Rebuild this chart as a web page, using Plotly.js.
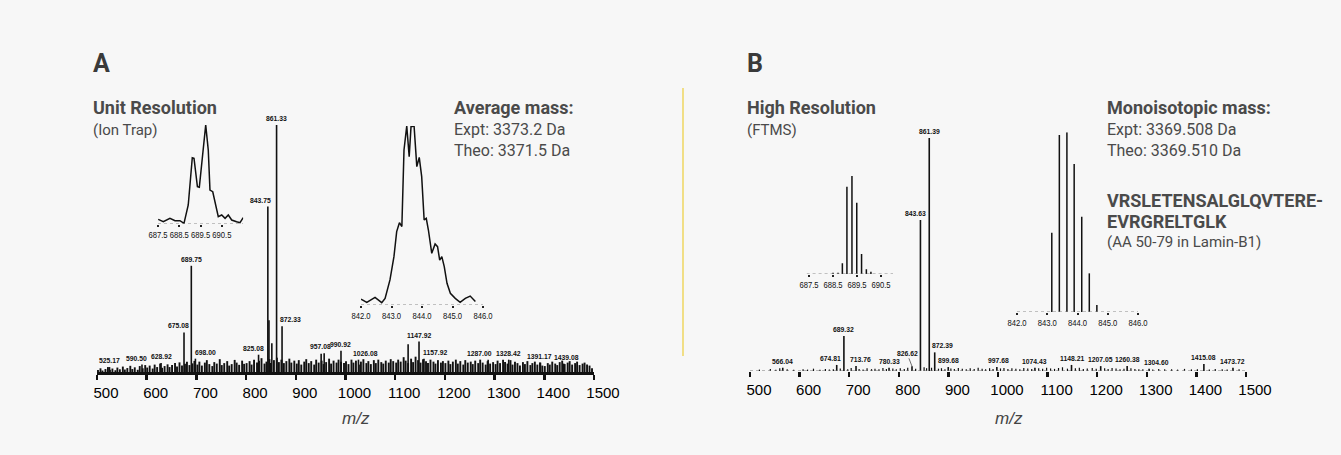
<!DOCTYPE html>
<html>
<head>
<meta charset="utf-8">
<script src="https://cdn.plot.ly/plotly-3.0.1.min.js"></script>
<style>
html,body{margin:0;padding:0;background:#f7f7f7;}
#chart{width:1341px;height:455px;}
</style>
</head>
<body>
<div id="chart"></div>
<script>
// ---------------- DATA ----------------
// Panel A (Ion Trap) labelled peaks: m/z and relative intensity (%)
const aPeakMz  = [525.17, 590.50, 628.92, 675.08, 689.75, 698.00, 825.08, 843.75, 861.33, 872.33, 957.08, 990.92, 1026.08, 1147.92, 1157.92, 1287.00, 1328.42, 1391.17, 1439.08];
const aPeakInt = [2.0,    3.0,    3.6,    16,     43,     5.4,    7.0,    67,     100,    18.5,   7.6,    8.6,    5.0,     12.3,    5.4,     5.0,     5.0,     3.8,     3.4];
// Panel A unlabelled prominent peaks
const aExtraMz  = [846.0, 851.8, 951.0, 1126.0];
const aExtraInt = [21,    11.6,  7.4,   11.2];
// Panel A baseline noise
const aNoiseMz = [
 502,507,511,517,522,526,531,537,541,546,552,556,561,567,571,576,582,586,592,597,
 601,606,612,616,621,627,631,636,642,646,651,657,661,666,671,677,681,686,692,696,
 702,706,711,717,721,726,732,736,741,747,751,756,762,766,771,777,781,786,792,796,
 801,807,811,816,822,826,831,837,841,847,850,856,862,866,871,876,881,887,891,897,
 902,906,911,917,921,926,931,937,941,946,952,956,961,967,971,976,982,986,991,997,
 1001,1006,1012,1016,1021,1027,1031,1036,1042,1046,1051,1057,1061,1066,1072,1076,1081,1087,1091,1096,
 1102,1106,1111,1117,1121,1126,1132,1136,1141,1146,1151,1156,1162,1166,1171,1177,1181,1186,1192,1196,
 1201,1207,1211,1216,1222,1226,1231,1237,1241,1246,1252,1256,1261,1267,1271,1276,1282,1286,1291,1297,
 1302,1306,1311,1317,1321,1326,1332,1336,1341,1346,1351,1357,1361,1366,1372,1376,1381,1386,1392,1396,
 1401,1407,1411,1416,1422,1426,1431,1436,1441,1447,1451,1456,1462,1466,1471,1477,1481,1486,1491,1496];
const aNoiseInt = [
 0.8,1.5,0.6,1.2,2.0,0.9,1.4,0.7,1.8,1.1,2.2,1.0,1.6,2.5,1.2,1.9,0.9,2.4,1.5,2.8,
 1.8,2.6,1.4,3.0,2.0,3.4,1.7,2.4,3.1,2.0,2.8,3.6,2.2,3.9,2.6,3.3,4.2,2.8,3.5,4.5,
 3.0,4.2,2.6,3.8,4.8,3.2,2.4,4.0,3.4,5.2,2.8,3.6,4.4,2.6,3.2,4.9,3.8,2.9,4.6,3.3,
 3.6,4.4,3.0,5.0,3.8,4.6,5.6,3.4,4.2,5.2,3.6,4.8,5.8,4.0,5.0,3.6,4.4,5.4,3.8,4.6,
 3.4,4.8,3.0,4.2,5.2,3.6,4.4,3.0,5.0,3.8,4.6,3.2,4.0,5.4,3.4,4.6,3.8,5.0,4.2,3.6,
 4.4,3.2,5.0,3.8,4.6,3.0,4.2,5.2,3.6,4.4,3.2,4.8,3.6,5.0,4.0,3.4,4.6,3.8,5.2,4.4,
 3.8,5.0,4.2,6.0,4.6,3.6,5.4,4.0,6.2,4.8,3.8,5.2,4.4,3.6,5.0,4.2,3.4,4.8,3.8,4.4,
 3.6,4.6,3.2,4.2,5.0,3.4,4.4,3.0,4.8,3.8,4.2,3.2,4.6,3.6,5.0,3.8,3.0,4.4,3.4,4.0,
 3.2,4.6,3.6,5.0,4.0,3.4,4.8,3.0,4.2,3.6,2.6,4.0,3.2,4.4,2.8,3.6,4.2,3.0,3.8,2.6,
 2.4,3.6,3.0,4.2,3.4,2.8,4.0,4.6,3.2,3.8,4.4,3.0,3.6,4.2,2.8,3.4,3.8,3.0,2.6,1.5];
// Panel A inset 1: profile around m/z 689.75
const aIn1Mz  = [687.51,687.75,688.06,688.30,688.53,688.72,688.92,689.11,689.19,689.35,689.44,689.60,689.74,689.86,689.94,690.07,690.22,690.33,690.49,690.65,690.80,690.96,691.19,691.35,691.50];
const aIn1Int = [4.7,2.3,5.7,3.3,3.3,0.7,19.2,67,66.4,37.7,37.1,71.4,100,74.7,34.3,32.6,15.9,7.4,9.1,5.7,9.1,4.0,2.3,1.3,6.4];
const aIn1Ticks = [687.5, 688.5, 689.5, 690.5];
// Panel A inset 2: profile around m/z 843.75
const aIn2Mz  = [842.00,842.19,842.46,842.68,842.79,842.95,843.08,843.17,843.26,843.34,843.41,843.50,843.58,843.64,843.74,843.83,843.91,843.99,844.07,844.14,844.21,844.32,844.43,844.51,844.58,844.65,844.73,844.82,844.93,845.09,845.25,845.42,845.58,845.75];
const aIn2Int = [3.2,1.5,4.3,1.3,3.7,14.0,27.0,41.0,46.0,43.8,86.6,100,82.9,99.6,100,77.3,82.5,71.7,47.5,48.4,41.9,28.9,34.1,32.6,25.1,27.0,21.4,12.1,6.5,3.7,1.5,3.7,5.0,1.9];
const aIn2Ticks = [842.0, 843.0, 844.0, 845.0, 846.0];

// Panel B (FTMS) labelled peaks
const bPeakMz  = [566.04, 674.81, 689.32, 713.76, 780.33, 826.62, 843.63, 861.39, 872.39, 899.68, 997.68, 1074.43, 1148.21, 1207.05, 1260.38, 1304.60, 1415.08, 1473.72];
const bPeakInt = [1.4,    2.6,    15,     2.1,    1.4,    2.0,    64.8,   100,    8.0,    1.7,    1.7,    1.4,     2.6,     2.1,     2.1,     1.0,     3.0,     1.4];
// Panel B small noise peaks
const bNoiseMz = [519,541,552,560,575,588,607,616,628,641,652,660,668,682,697,704,720,728,736,745,
 752,760,768,775,788,795,803,811,818,834,851,856,866,880,886,893,905,912,920,928,
 936,944,952,960,968,975,983,990,1005,1012,1020,1028,1036,1044,1052,1060,1068,1082,1090,1098,
 1106,1114,1122,1130,1140,1156,1164,1172,1180,1190,1198,1215,1222,1230,1238,1246,1254,1268,1276,1284,
 1292,1312,1324,1336,1350,1362,1376,1390,1402,1426,1438,1452,1462,1486];
const bNoiseInt = [0.6,0.9,0.5,1.2,0.7,0.5,0.8,0.6,1.0,0.5,0.9,0.6,0.8,1.1,0.7,1.3,0.9,0.6,1.2,0.8,
 1.0,0.7,1.3,0.9,1.1,0.8,1.2,0.9,1.4,1.0,1.6,1.2,1.4,1.0,1.2,0.8,1.1,0.9,1.3,1.0,
 0.8,1.2,0.9,1.4,1.0,0.8,1.2,0.9,1.1,1.3,0.9,1.2,1.0,0.8,1.3,1.1,0.9,1.2,1.0,1.4,
 1.1,0.9,1.3,1.6,1.0,1.2,1.4,0.9,1.1,1.3,1.0,1.2,0.9,1.3,1.1,0.8,1.0,1.2,0.9,0.7,
 0.8,0.6,0.9,0.7,0.8,0.6,0.9,0.7,0.8,0.6,0.9,0.7,0.6,0.8];
// Panel B inset 1: isotope sticks around m/z 689
const bIn1Mz  = [688.50, 688.71, 688.89, 689.08, 689.29, 689.49, 689.69, 689.89, 690.08];
const bIn1Int = [1.4,    1.4,    10.9,   89.1,   100,    72.8,   20.4,   4.8,    2.4];
const bIn1Ticks = [687.5, 688.5, 689.5, 690.5];
// Panel B inset 2: isotope sticks around m/z 843
const bIn2Mz  = [843.15, 843.40, 843.65, 843.89, 844.14, 844.39, 844.64];
const bIn2Int = [44.1,   98.5,   100,    82.4,   53.0,   21.5,   3.9];
const bIn2Ticks = [842.0, 843.0, 844.0, 845.0, 846.0];

const mainTicks = [500, 600, 700, 800, 900, 1000, 1100, 1200, 1300, 1400, 1500];

// label nudges (pixels) so peak labels sit where the reference prints them
const labelShiftA = {'590.50': -5, '675.08': -6, '698.00': 10, '825.08': -5, '843.75': -7, '872.33': 8,
                     '957.08': -4, '1026.08': 7, '1157.92': 11, '1287.00': -9, '1439.08': 3};
const labelShiftB = {'674.81': -6, '713.76': 4, '843.63': -5, '872.39': 8, '997.68': 2, '1304.60': 7};

// ---------------- LAYOUT HELPERS ----------------
const W = 1341, H = 455;
const xd = (a, b) => [a / W, b / W];
const yd = (bottom, top) => [1 - bottom / H, 1 - top / H];
const px = x => x / W;
const py = y => 1 - y / H;

function sticks(xs, ys) {
  const X = [], Y = [];
  xs.forEach((v, i) => { X.push(v, v, null); Y.push(0, ys[i], null); });
  return {x: X, y: Y};
}
function stickTrace(xs, ys, xa, ya, w) {
  const s = sticks(xs, ys);
  return {x: s.x, y: s.y, xaxis: xa, yaxis: ya, mode: 'lines', type: 'scatter',
          line: {color: '#111', width: w}, hoverinfo: 'skip', showlegend: false};
}

const traces = [
  stickTrace(aNoiseMz, aNoiseInt, 'x', 'y', 1.9),
  stickTrace(aExtraMz, aExtraInt, 'x', 'y', 1.6),
  stickTrace(aPeakMz, aPeakInt, 'x', 'y', 1.6),
  {x: aIn1Mz, y: aIn1Int, xaxis: 'x2', yaxis: 'y2', mode: 'lines', type: 'scatter',
   line: {color: '#111', width: 1.5}, hoverinfo: 'skip', showlegend: false},
  {x: aIn2Mz, y: aIn2Int, xaxis: 'x3', yaxis: 'y3', mode: 'lines', type: 'scatter',
   line: {color: '#111', width: 1.5}, hoverinfo: 'skip', showlegend: false},
  stickTrace(bNoiseMz, bNoiseInt, 'x4', 'y4', 1.2),
  stickTrace(bPeakMz, bPeakInt, 'x4', 'y4', 1.6),
  stickTrace(bIn1Mz, bIn1Int, 'x5', 'y5', 1.5),
  stickTrace(bIn2Mz, bIn2Int, 'x6', 'y6', 1.5)
];

const tickFontMain = {family: 'Liberation Sans, Arial, sans-serif', size: 15, color: '#000'};
const tickFontInset = {family: 'Liberation Sans, Arial, sans-serif', size: 9, color: '#111'};

function mainX(dom, anchor, showline) {
  return {domain: dom, range: [500, 1500], anchor: anchor, showgrid: false, zeroline: false,
          showline: showline, linecolor: '#111', linewidth: 3,
          ticks: 'outside', ticklen: 5, tickwidth: 2.5, tickcolor: '#111',
          tickmode: 'array', tickvals: mainTicks, ticktext: mainTicks.map(String), tickangle: 0,
          tickfont: tickFontMain, ticklabelshift: 9, fixedrange: true};
}
function insetX(dom, range, ticks, anchor) {
  return {domain: dom, range: range, anchor: anchor, showgrid: false, zeroline: false, showline: false,
          ticks: 'outside', ticklen: 2, tickwidth: 2, tickcolor: '#222', tickangle: 0,
          tickmode: 'array', tickvals: ticks, ticktext: ticks.map(v => v.toFixed(1)),
          tickfont: tickFontInset, fixedrange: true};
}
function yAx(dom, anchor) {
  return {domain: dom, range: [0, 100], anchor: anchor, visible: false, fixedrange: true};
}

const layout = {
  width: W, height: H,
  margin: {l: 0, r: 0, t: 0, b: 0},
  paper_bgcolor: '#f7f7f7', plot_bgcolor: 'rgba(0,0,0,0)',
  showlegend: false,
  xaxis:  mainX(xd(97, 594), 'y', true),
  yaxis:  yAx(yd(372, 125), 'x'),
  xaxis2: insetX(xd(158, 243.2), [687.5, 691.5], aIn1Ticks, 'y2'),
  yaxis2: yAx(yd(224, 125), 'x2'),
  xaxis3: insetX(xd(361, 483), [842, 846], aIn2Ticks, 'y3'),
  yaxis3: yAx(yd(305, 126), 'x3'),
  xaxis4: mainX(xd(750, 1246), 'y4', false),
  yaxis4: yAx(yd(371, 138), 'x4'),
  xaxis5: insetX(xd(806.6, 893), [687.4, 691.0], bIn1Ticks, 'y5'),
  yaxis5: yAx(yd(274, 176), 'x5'),
  xaxis6: insetX(xd(1017, 1138), [842, 846], bIn2Ticks, 'y6'),
  yaxis6: yAx(yd(312, 132.3), 'x6'),
  shapes: [
    {type: 'line', xref: 'paper', yref: 'paper', x0: px(683), x1: px(683), y0: py(88), y1: py(356),
     line: {color: '#efd24a', width: 1.3}},
    {type: 'line', xref: 'x2', yref: 'y2', x0: 687.5, x1: 691.5, y0: 0, y1: 0, line: {color: '#888', width: 1, dash: 'dot'}},
    {type: 'line', xref: 'x3', yref: 'y3', x0: 842, x1: 846, y0: 0, y1: 0, line: {color: '#888', width: 1, dash: 'dot'}},
    {type: 'line', xref: 'x4', yref: 'y4', x0: 500, x1: 1500, y0: 0, y1: 0, line: {color: '#777', width: 1, dash: 'dot'}},
    {type: 'line', xref: 'x5', yref: 'y5', x0: 687.4, x1: 691.0, y0: 0, y1: 0, line: {color: '#888', width: 1, dash: 'dot'}},
    {type: 'line', xref: 'x6', yref: 'y6', x0: 842, x1: 846, y0: 0, y1: 0, line: {color: '#888', width: 1, dash: 'dot'}}
  ],
  annotations: []
};

const ann = layout.annotations;
const gray = '#4a4a4a';
function txt(text, x, y, size, bold, opts) {
  ann.push(Object.assign({text: text, xref: 'paper', yref: 'paper', x: px(x), y: py(y),
    xanchor: 'left', yanchor: 'middle', showarrow: false,
    font: {family: 'Roboto, Liberation Sans, sans-serif', size: size, color: gray, weight: bold ? 700 : 400}}, opts || {}));
}
txt('A', 91, 64, 25, true, {font: {family: 'Roboto, sans-serif', size: 25, color: '#3a3a3a', weight: 700}});
txt('Unit Resolution', 91, 107, 18, true);
txt('(Ion Trap)', 91, 130, 15, false);
txt('Average mass:', 452, 107, 18, true);
txt('Expt: 3373.2 Da', 452, 129, 16, false);
txt('Theo: 3371.5 Da', 452, 151, 16, false);
txt('B', 745, 64, 25, true, {font: {family: 'Roboto, sans-serif', size: 25, color: '#3a3a3a', weight: 700}});
txt('High Resolution', 745, 107, 18, true);
txt('(FTMS)', 745, 130, 15, false);
txt('Monoisotopic mass:', 1105, 107, 18, true);
txt('Expt: 3369.508 Da', 1105, 129, 16, false);
txt('Theo: 3369.510 Da', 1105, 151, 16, false);
txt('VRSLETENSALGLQVTERE-', 1105, 200, 18, true);
txt('EVRGRELTGLK', 1105, 221, 18, true);
txt('(AA 50-79 in Lamin-B1)', 1105, 242, 15, false);

const mzFont = {family: 'Liberation Sans, Arial, sans-serif', size: 17, color: '#444', style: 'italic'};
ann.push({text: 'm/z', xref: 'paper', yref: 'paper', x: px(356), y: py(418), xanchor: 'center', yanchor: 'middle', showarrow: false, font: mzFont});
ann.push({text: 'm/z', xref: 'paper', yref: 'paper', x: px(1009), y: py(418), xanchor: 'center', yanchor: 'middle', showarrow: false, font: mzFont});

const peakFont = {family: 'Liberation Sans, Arial, sans-serif', size: 6.8, color: '#111', weight: 700};
aPeakMz.forEach((m, i) => {
  const t = m.toFixed(2);
  ann.push({text: t, x: m, y: aPeakInt[i], xref: 'x', yref: 'y', xshift: labelShiftA[t] || 0,
    xanchor: 'center', yanchor: 'bottom', yshift: 1, showarrow: false, font: peakFont});
});
bPeakMz.forEach((m, i) => {
  const t = m.toFixed(2);
  const a = {text: t, x: m, y: bPeakInt[i], xref: 'x4', yref: 'y4', xshift: labelShiftB[t] || 0,
    xanchor: 'center', yanchor: 'bottom', yshift: 1, showarrow: false, font: peakFont};
  if (t === '826.62') {
    Object.assign(a, {showarrow: true, arrowhead: 0, arrowwidth: 0.7, arrowcolor: '#333', ax: -5, ay: -13, yshift: 0, xshift: 0});
    delete a.xanchor; delete a.yanchor;
  }
  ann.push(a);
});

function narrowInsetLabels() {
  ['x2', 'x3', 'x5', 'x6'].forEach(k => {
    document.querySelectorAll('g.' + k + 'tick text').forEach(t => {
      const tr = t.getAttribute('transform') || '';
      if (tr.indexOf('scale(') === -1) t.setAttribute('transform', tr + ' scale(0.85,1)');
    });
  });
}
const gd = document.getElementById('chart');
Plotly.newPlot(gd, traces, layout, {staticPlot: true, displayModeBar: false}).then(() => {
  narrowInsetLabels();
  gd.on && gd.on('plotly_afterplot', narrowInsetLabels);
});
</script>
</body>
</html>
